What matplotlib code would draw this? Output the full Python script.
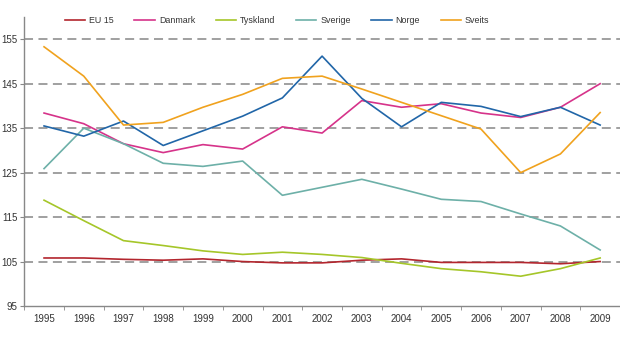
import numpy as np
import matplotlib
matplotlib.use("Agg")
import matplotlib.pyplot as plt

plt.rcParams['font.family'] = ['Liberation Sans', 'DejaVu Sans']

years = ['1995', '1996', '1997', '1998', '1999', '2000', '2001', '2002',
         '2003', '2004', '2005', '2006', '2007', '2008', '2009']

eu15 = [105.8, 105.8, 105.5, 105.3, 105.6, 105.0, 104.7, 104.7, 105.3, 105.6,
        104.8, 104.8, 104.8, 104.5, 105.0]
danmark = [138.4, 136.0, 131.5, 129.5, 131.3, 130.3, 135.3, 133.9, 141.2, 139.7,
           140.5, 138.4, 137.4, 139.7, 145.0]
tyskland = [118.8, 114.2, 109.7, 108.6, 107.4, 106.6, 107.1, 106.6, 105.9, 104.6,
            103.4, 102.7, 101.7, 103.4, 105.8]
sverige = [125.9, 135.0, 131.5, 127.1, 126.4, 127.6, 119.9, 121.7, 123.5, 121.3,
           119.0, 118.5, 115.7, 113.0, 107.6]
norge = [135.5, 133.2, 136.6, 131.1, 134.4, 137.7, 141.8, 151.2, 141.7, 135.3,
         140.8, 139.9, 137.6, 139.7, 135.7]
sveits = [153.3, 146.7, 135.7, 136.3, 139.7, 142.6, 146.2, 146.7, 143.8, 140.8,
          137.8, 134.8, 125.0, 129.2, 138.5]

series = [('EU 15', eu15, '#b3262e'),
          ('Danmark', danmark, '#d6338a'),
          ('Tyskland', tyskland, '#a5c629'),
          ('Sverige', sverige, '#6db0a8'),
          ('Norge', norge, '#2166a8'),
          ('Sveits', sveits, '#f0a21e')]

fig = plt.figure(figsize=(6.2, 3.4), dpi=100)
ax = fig.add_axes([0.039, 0.1, 0.961, 0.85])

x = np.arange(len(years))
for name, vals, col in series:
    ax.plot(x, vals, color=col, lw=1.2, label=name, zorder=3)

# dashed grid
for v in range(105, 156, 10):
    ax.axhline(v, color='#999999', lw=1.3, ls=(0, (5, 3)), zorder=1)

ax.set_xlim(-0.5, len(years) - 0.5)
ax.set_ylim(95, 160)
ax.set_yticks(range(95, 156, 10))
ax.set_xticks(x)
ax.set_xticklabels(years)
ax.set_xticks(np.arange(-0.5, len(years), 1), minor=True)
ax.tick_params(axis='x', which='major', length=0, labelsize=7, colors='#333333', pad=6)
ax.tick_params(axis='x', which='minor', length=3, color='#888888')
ax.tick_params(axis='y', length=3, color='#888888', labelsize=7, labelcolor='#333333', pad=2)

for s in ['top', 'right']:
    ax.spines[s].set_visible(False)
for s in ['left', 'bottom']:
    ax.spines[s].set_color('#888888')
    ax.spines[s].set_linewidth(1)

fig.legend(loc='center', bbox_to_anchor=(0.447, 0.94), ncol=6, frameon=False,
           fontsize=6.4, handlelength=2.3, columnspacing=2.3, handletextpad=0.45,
           labelcolor='#333333')

plt.savefig('out.png', dpi=100)
